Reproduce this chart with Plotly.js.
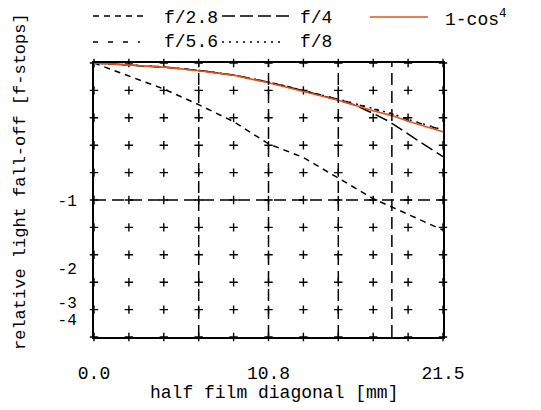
<!DOCTYPE html>
<html><head><meta charset="utf-8">
<script src="https://cdn.plot.ly/plotly-3.0.1.min.js"></script>
<style>html,body{margin:0;padding:0;background:#fff}#chart{width:541px;height:410px}</style>
</head><body><div id="chart"></div>
<script>
// ---- data ----
const radius = [0, 2.15, 4.3, 6.45, 8.6, 10.75, 12.9, 15.05, 17.2, 18.36, 19.35, 21.5];
const f28  = [1.0, 0.952, 0.905, 0.848, 0.786, 0.705, 0.655, 0.580, 0.505, 0.474, 0.447, 0.390];
const radiusF4 = [0, 2.15, 4.3, 6.45, 8.6, 10.75, 12.9, 15.05, 16.1, 17.2, 18.2, 19.8, 21.5];
const f4   = [1.0, 0.993, 0.985, 0.973, 0.956, 0.930, 0.899, 0.865, 0.846, 0.816, 0.786, 0.723, 0.658];
const f56  = [1.0, 0.993, 0.985, 0.973, 0.956, 0.930, 0.900, 0.867, 0.832, 0.814, 0.793, 0.755];
const f8   = [1.0, 0.993, 0.986, 0.973, 0.956, 0.931, 0.900, 0.868, 0.834, 0.815, 0.794, 0.756];
const cos4 = [1.0, 0.993, 0.985, 0.972, 0.955, 0.928, 0.897, 0.864, 0.826, 0.808, 0.787, 0.749];
const seriesNames = ['f/2.8', 'f/4', 'f/5.6', 'f/8', '1-cos<sup>4</sup>'];

// axis ticks
const xTickVals = [0, 10.75, 21.5];
const xTickText = ['0.0', '10.8', '21.5'];
const yTickVals = [0.5, 0.25, 0.125, 0.0625];
const yTickText = ['-1', '-2', '-3', '-4'];

// reference grid: "+" marks and dashed lines
const crossX = [0, 2.15, 4.3, 6.45, 8.6, 10.75, 12.9, 15.05, 17.2, 19.35, 21.5];
const crossY = [0, 0.1, 0.2, 0.3, 0.4, 0.5, 0.6, 0.7, 0.8, 0.9, 1.0];
const dashedX = [6.45, 10.75, 15.05, 18.35];
const dashedY = [0.5];

// ---- styling ----
const FONT = 'Liberation Mono, monospace';
const ORANGE = '#e8501e';
const L = 94, R = 443, T = 63, B = 337;
const px2x = p => (p - L) / (R - L);
const py2y = p => (B - p) / (B - T);

const cx = [], cy = [];
crossX.forEach(x => crossY.forEach(y => { cx.push(x); cy.push(y); }));

const dashes = {
  'f/2.8': '6px,5px',
  'f/4': '13px,5px',
  'f/5.6': '5px,10px',
  'f/8': '2px,5px'
};

const traces = [
  {x: cx, y: cy, mode: 'markers', type: 'scatter', hoverinfo: 'skip', cliponaxis: false,
   marker: {symbol: 'cross-thin', size: 6, line: {width: 1.4, color: '#000'}}},
  {x: radius, y: f28, name: seriesNames[0], mode: 'lines', line: {color: '#000', width: 1.5, dash: dashes['f/2.8']}},
  {x: radiusF4, y: f4, name: seriesNames[1], mode: 'lines', line: {color: '#000', width: 1.5, dash: dashes['f/4']}},
  {x: radius, y: f56, name: seriesNames[2], mode: 'lines', line: {color: '#000', width: 1.5, dash: dashes['f/5.6']}},
  {x: radius, y: f8, name: seriesNames[3], mode: 'lines', line: {color: '#000', width: 1.5, dash: dashes['f/8']}},
  {x: radius, y: cos4, name: seriesNames[4], mode: 'lines', line: {color: ORANGE, width: 1.6}}
];

const shapes = [];
dashedX.forEach(x => shapes.push({type: 'line', xref: 'x', yref: 'y', x0: x, x1: x, y0: 0, y1: 1,
  line: {color: '#000', width: 1.5, dash: '12px,6px'}}));
dashedY.forEach(y => shapes.push({type: 'line', xref: 'x', yref: 'y', x0: 0, x1: 21.5, y0: y, y1: y,
  line: {color: '#000', width: 1.5, dash: '12px,6px'}}));

// manual legend
const legendItems = [
  {name: seriesNames[0], x0: 93, x1: 148, tx: 162, y: 16, ty: 18, color: '#000', dash: dashes['f/2.8']},
  {name: seriesNames[1], x0: 222, x1: 290, tx: 298, y: 16, ty: 18, color: '#000', dash: dashes['f/4']},
  {name: seriesNames[4], x0: 370, x1: 428, tx: 443, y: 17, ty: 18, color: ORANGE, dash: 'solid'},
  {name: seriesNames[2], x0: 93, x1: 140, tx: 162, y: 42, ty: 42, color: '#000', dash: dashes['f/5.6']},
  {name: seriesNames[3], x0: 222, x1: 285, tx: 298, y: 42, ty: 42, color: '#000', dash: dashes['f/8']}
];
const annotations = [];
legendItems.forEach(it => {
  shapes.push({type: 'line', xref: 'paper', yref: 'paper', x0: px2x(it.x0), x1: px2x(it.x1),
    y0: py2y(it.y), y1: py2y(it.y), line: {color: it.color, width: 1.5, dash: it.dash}});
  annotations.push({xref: 'paper', yref: 'paper', x: px2x(it.tx), y: py2y(it.ty), xanchor: 'left',
    yanchor: 'middle', showarrow: false, text: it.name, font: {family: FONT, size: 18, color: '#000'}});
});
annotations.push({xref: 'paper', yref: 'paper', x: px2x(274), y: py2y(393), xanchor: 'center', yanchor: 'middle',
  showarrow: false, text: 'half film diagonal [mm]', font: {family: FONT, size: 18, color: '#000'}});
annotations.push({xref: 'paper', yref: 'paper', x: px2x(20), y: py2y(182), xanchor: 'center', yanchor: 'middle',
  showarrow: false, textangle: -90, text: 'relative light fall-off [f-stops]', font: {family: FONT, size: 17, color: '#000'}});

const layout = {
  width: 541, height: 410,
  margin: {l: L, r: 541 - R, t: T, b: 410 - B, pad: 0},
  paper_bgcolor: '#fff', plot_bgcolor: '#fff',
  showlegend: false,
  xaxis: {range: [0, 21.5], showgrid: false, zeroline: false, showline: true, mirror: true,
    linecolor: '#000', linewidth: 2, ticks: '', tickvals: xTickVals, ticktext: xTickText,
    tickfont: {family: FONT, size: 18, color: '#000'}, ticklabelstandoff: 18},
  yaxis: {range: [0, 1], showgrid: false, zeroline: false, showline: true, mirror: true,
    linecolor: '#000', linewidth: 2, ticks: '', tickvals: yTickVals, ticktext: yTickText,
    tickfont: {family: FONT, size: 16, color: '#000'}, ticklabelstandoff: 12},
  shapes: shapes,
  annotations: annotations
};

Plotly.newPlot('chart', traces, layout, {displayModeBar: false, staticPlot: true});
</script>
</body></html>
